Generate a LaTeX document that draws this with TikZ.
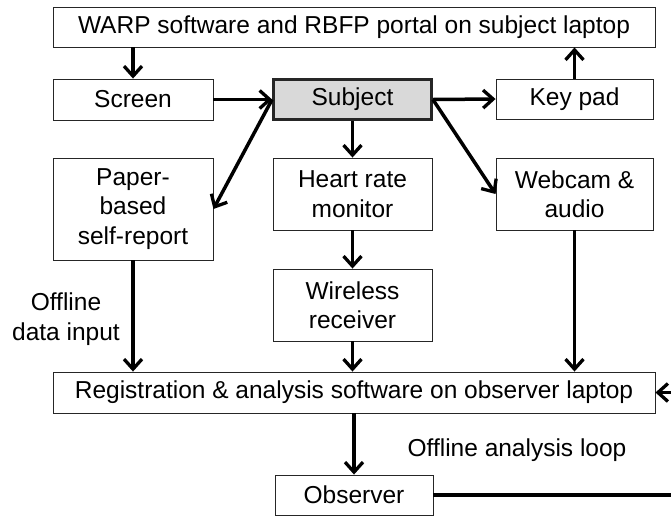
\documentclass[tikz,border=0pt]{standalone}
\usepackage{fontspec}
\setmainfont{Liberation Sans}
\usetikzlibrary{arrows.meta}
\begin{document}
\begin{tikzpicture}[x=1pt,y=-1pt,
  box/.style={draw=black!85,line width=0.9pt,fill=white,inner sep=0pt,align=center,
    font=\fontsize{24.5}{29.5}\selectfont},
  subj/.style={box,fill=black!15,line width=2.8pt},
  arr/.style={line width=3.5pt,-{Straight Barb[length=10pt,width=18pt,line width=3.3pt]}},
  lbl/.style={align=center,font=\fontsize{24.5}{29.5}\selectfont,inner sep=0pt}]
\useasboundingbox (0,0) rectangle (671,515);
\clip (0,0) rectangle (671,515);
\node[box,minimum width=602pt,minimum height=40pt] (top) at (354,27) {WARP software and RBFP portal on subject laptop};
\node[box,minimum width=160pt,minimum height=41pt] (screen) at (133,99.5) {Screen};
\node[subj,minimum width=158pt,minimum height=40pt] (subject) at (352.5,99.5) {Subject};
\node[box,minimum width=157pt,minimum height=40pt] (keypad) at (574.5,99) {Key pad};
\node[box,minimum width=160pt,minimum height=102pt] (paper) at (133,209) {Paper-\\based\\self-report};
\node[box,minimum width=159pt,minimum height=72pt] (heart) at (352.5,194) {Heart rate\\monitor};
\node[box,minimum width=157pt,minimum height=72pt] (webcam) at (574.5,194) {Webcam \&\\audio};
\node[box,minimum width=159pt,minimum height=72pt] (wireless) at (352.5,305) {Wireless\\receiver};
\node[box,minimum width=602pt,minimum height=41pt] (reg) at (354,392.5) {Registration \& analysis software on observer laptop};
\node[box,minimum width=158pt,minimum height=40pt] (observer) at (354,495) {Observer};
\node[lbl] (offin) at (66,319) {Offline\\data input};
\node[lbl] (offloop) at (517,450) {Offline analysis loop};
\coordinate (loopA) at (700,495);
\coordinate (loopB) at (700,392.5);
\draw[arr] (screen.north |- top.south) -- (screen.north);
\draw[arr] (keypad.north) -- (keypad.north |- top.south);
\draw[arr] (screen.east) -- (subject.west);
\draw[arr] (subject.east) -- (keypad.west);
\draw[arr] (subject.south) -- (heart.north);
\draw[arr] (subject.west) -- (paper.east);
\draw[arr] (subject.east) -- (webcam.west);
\draw[arr] (heart.south) -- (wireless.north);
\draw[arr] (wireless.south) -- (wireless.south |- reg.north);
\draw[arr] (paper.south) -- (paper.south |- reg.north);
\draw[arr] (webcam.south) -- (webcam.south |- reg.north);
\draw[arr] (reg.south) -- (observer.north);
\draw[arr] (observer.east) -- (loopA) -- (loopB) -- (reg.east);
\end{tikzpicture}
\end{document}
